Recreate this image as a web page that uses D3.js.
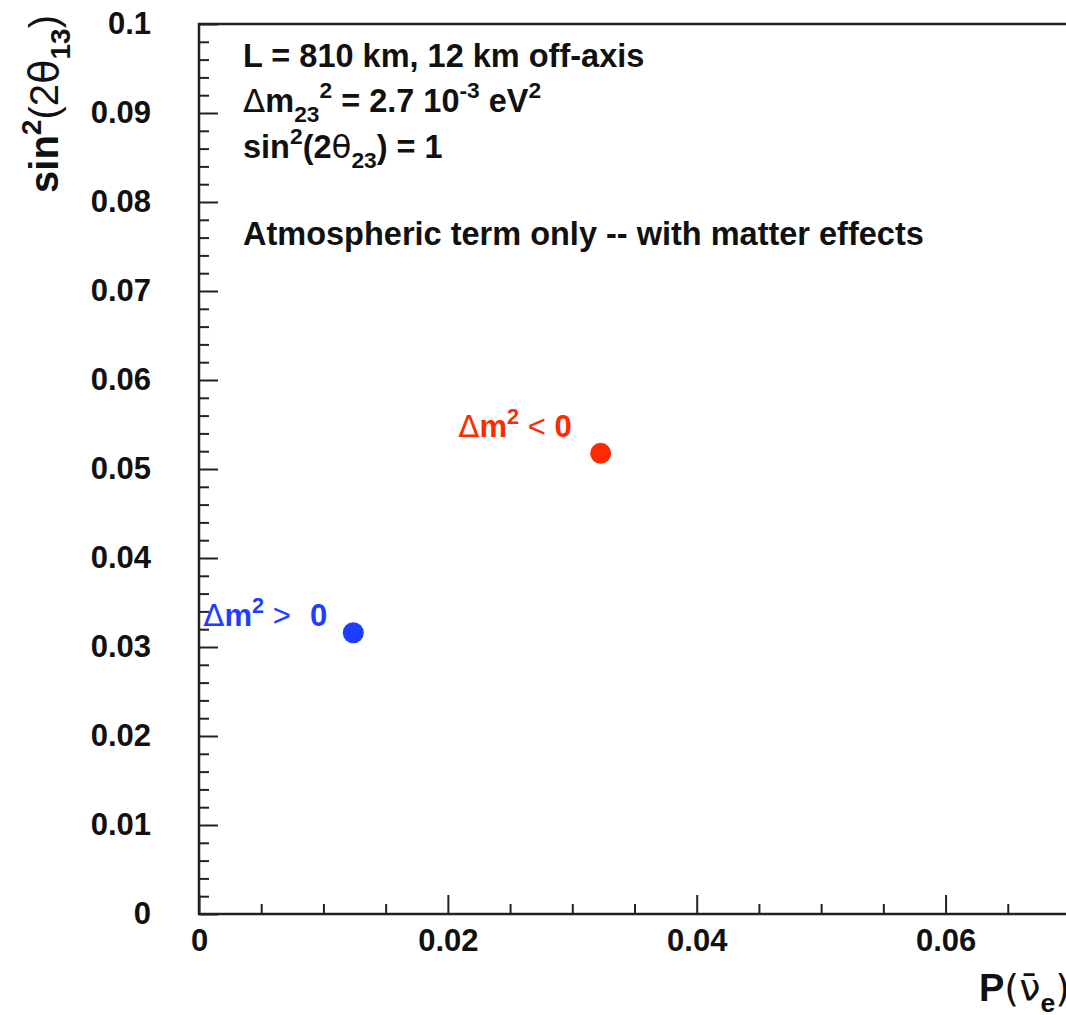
<!DOCTYPE html>
<html>
<head>
<meta charset="utf-8">
<script src="https://cdn.jsdelivr.net/npm/d3@7"></script>
<style>
  html, body { margin: 0; padding: 0; background: #fff; }
  svg { display: block; }
  text { font-family: "Liberation Sans", Arial, Helvetica, sans-serif; font-weight: bold; }
</style>
</head>
<body>
<svg id="chart" width="1066" height="1015"></svg>
<script>
// ---- data ----
const seriesNames = ["dm2pos", "dm2neg"];
const probValues = [0.0124, 0.03228];      // P(anti-nu_e)
const sin2Values = [0.0316, 0.05176];      // sin^2(2 theta13)
const seriesColors = ["#1f3dff", "#ff2a00"];
const xMajorTicks = [0, 0.02, 0.04, 0.06];
const yMajorTicks = [0, 0.01, 0.02, 0.03, 0.04, 0.05, 0.06, 0.07, 0.08, 0.09, 0.1];
const xDomain = [0, 0.07];
const yDomain = [0, 0.1];

// ---- layout ----
const mLeft = 199, mTop = 24, mRight = 1070, mBottom = 914;
const FS = 31, FI = 32.5, FT = 38;

const svg = d3.select("#chart");
const x = d3.scaleLinear().domain(xDomain).range([mLeft, mRight]);
const y = d3.scaleLinear().domain(yDomain).range([mBottom, mTop]);

const fmt = d => String(+d.toFixed(4));
const xMinor = d3.range(0, 0.0701, 0.005).map(v => +v.toFixed(4)).filter(v => !xMajorTicks.some(m => Math.abs(m - v) < 1e-9));
const yMinor = d3.range(0, 0.1001, 0.002).map(v => +v.toFixed(4)).filter(v => !yMajorTicks.some(m => Math.abs(m - v) < 1e-9));

// frame
svg.append("rect").attr("x", mLeft).attr("y", mTop)
  .attr("width", mRight - mLeft).attr("height", mBottom - mTop)
  .attr("fill", "none").attr("stroke", "#222").attr("stroke-width", 2.5);

// x axis
const gx = svg.append("g").attr("transform", `translate(0,${mBottom})`);
gx.call(d3.axisBottom(x).tickValues(xMajorTicks).tickSize(-19).tickPadding(15).tickFormat(fmt));
const gxm = svg.append("g").attr("transform", `translate(0,${mBottom})`);
gxm.call(d3.axisBottom(x).tickValues(xMinor).tickSize(-10).tickFormat(""));

// y axis
const gy = svg.append("g").attr("transform", `translate(${mLeft},0)`);
gy.call(d3.axisLeft(y).tickValues(yMajorTicks).tickSize(-19).tickPadding(48).tickFormat(fmt));
const gym = svg.append("g").attr("transform", `translate(${mLeft},0)`);
gym.call(d3.axisLeft(y).tickValues(yMinor).tickSize(-10).tickFormat(""));

svg.selectAll(".domain").remove();
svg.selectAll(".tick line").attr("stroke", "#222").attr("stroke-width", 2);
svg.selectAll(".tick text").attr("font-size", FS).attr("font-weight", "bold")
  .attr("font-family", "'Liberation Sans', Arial, sans-serif").attr("fill", "#111");

// rich text helper
function rich(sel, parts, fs) {
  let shift = 0;
  parts.forEach(p => {
    let target = 0, size = fs;
    if (p.sup) { target = -0.42 * fs; size = 0.7 * fs; }
    if (p.sub) { target = 0.3 * fs; size = 0.7 * fs; }
    const ts = sel.append("tspan").text(p.t).attr("font-size", size)
      .attr("dy", target - shift);
    if (p.dx) ts.attr("dx", p.dx);
    if (p.sym) ts.attr("font-weight", "normal").attr("font-family", "'DejaVu Sans', 'Liberation Sans', sans-serif");
    if (p.thin) ts.attr("font-weight", "normal");
    shift = target;
  });
}

// info text
const infoX = 243;
const t1 = svg.append("text").attr("x", infoX).attr("y", 67).attr("font-size", FI).attr("fill", "#111");
rich(t1, [{t: "L = 810 km, 12 km off-axis"}], FI);
const t2 = svg.append("text").attr("x", infoX).attr("y", 112).attr("font-size", FI).attr("fill", "#111");
rich(t2, [{t: "Δ", sym: true}, {t: "m"}, {t: "23", sub: true}, {t: "2", sup: true}, {t: " = 2.7 10"}, {t: "-3", sup: true}, {t: " eV"}, {t: "2", sup: true}], FI);
const t3 = svg.append("text").attr("x", infoX).attr("y", 158).attr("font-size", FI).attr("fill", "#111");
rich(t3, [{t: "sin"}, {t: "2", sup: true}, {t: "(2"}, {t: "θ", sym: true}, {t: "23", sub: true}, {t: ") = 1"}], FI);
const t4 = svg.append("text").attr("x", infoX).attr("y", 245).attr("font-size", FI).attr("fill", "#111");
rich(t4, [{t: "Atmospheric term only -- with matter effects"}], FI);

// points
const pts = seriesNames.map((s, i) => ({name: s, px: probValues[i], py: sin2Values[i], color: seriesColors[i]}));
svg.append("g").selectAll("circle").data(pts).join("circle")
  .attr("cx", d => x(d.px)).attr("cy", d => y(d.py)).attr("r", 10.5)
  .attr("fill", d => d.color);

// point labels
const labelOffsets = {dm2pos: [-26, -6.5], dm2neg: [-29, -16.5]};
const labelParts = {
  dm2pos: [{t: "Δ", sym: true}, {t: "m"}, {t: "2", sup: true}, {t: " > ", thin: true}, {t: " 0", dx: 2}],
  dm2neg: [{t: "Δ", sym: true}, {t: "m"}, {t: "2", sup: true}, {t: " < ", thin: true}, {t: "0"}]
};
pts.forEach(d => {
  const o = labelOffsets[d.name];
  const t = svg.append("text").attr("x", x(d.px) + o[0]).attr("y", y(d.py) + o[1])
    .attr("text-anchor", "end").attr("font-size", FS).attr("fill", d.color)
    .style("white-space", "pre");
  rich(t, labelParts[d.name], FS);
});

// axis titles
const xt = svg.append("text").attr("x", mRight).attr("y", 1001).attr("text-anchor", "end")
  .attr("font-size", FT).attr("fill", "#111");
rich(xt, [{t: "P"}, {t: "(", sym: true}, {t: "ν\u0304", sym: true}, {t: "e", sub: true}, {t: ")", sym: true}], FT);

const FY = 40;
const yt = svg.append("text").attr("transform", "translate(58,15) rotate(-90)").attr("text-anchor", "end")
  .attr("font-size", FY).attr("fill", "#111");
rich(yt, [{t: "sin"}, {t: "2", sup: true}, {t: "(2", thin: true}, {t: "θ", sym: true}, {t: "13", sub: true}, {t: ")", thin: true}], FY);
</script>
</body>
</html>
